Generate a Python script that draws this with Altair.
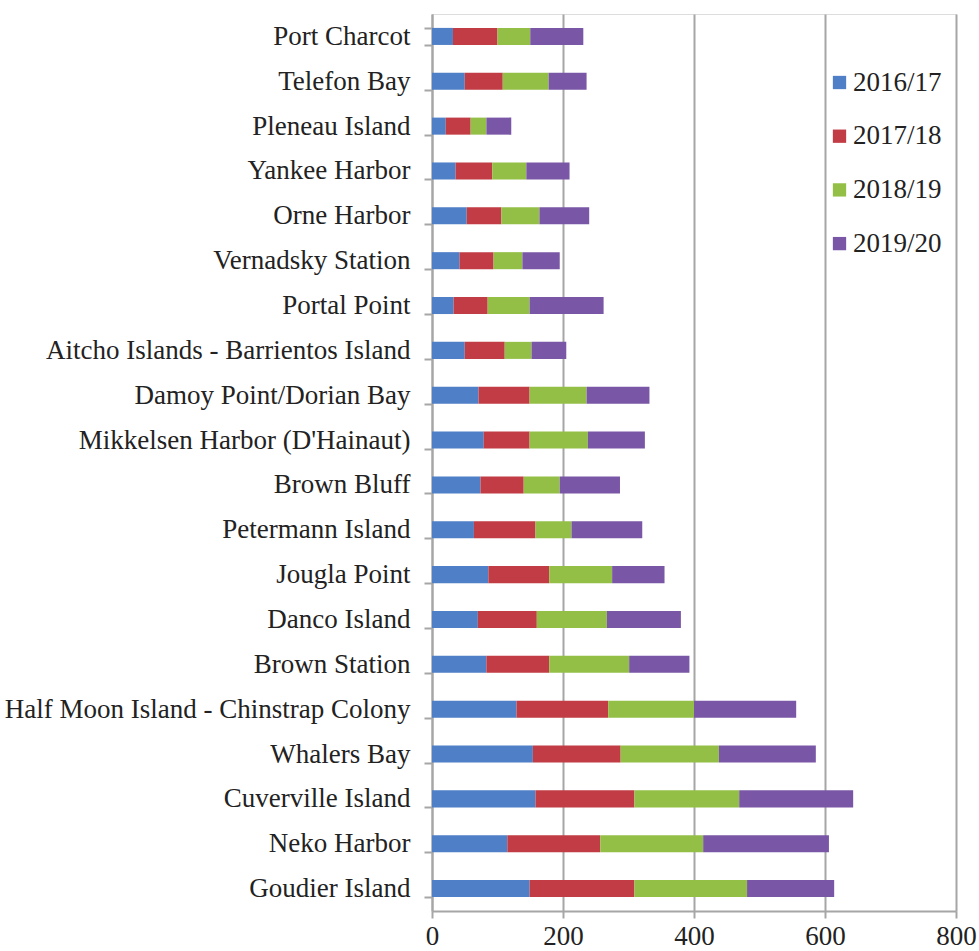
import altair as alt
import pandas as pd

# Landing sites, listed from top to bottom of the chart
sites = [
    "Port Charcot", "Telefon Bay", "Pleneau Island", "Yankee Harbor", "Orne Harbor",
    "Vernadsky Station", "Portal Point", "Aitcho Islands - Barrientos Island",
    "Damoy Point/Dorian Bay", "Mikkelsen Harbor (D'Hainaut)", "Brown Bluff",
    "Petermann Island", "Jougla Point", "Danco Island", "Brown Station",
    "Half Moon Island - Chinstrap Colony", "Whalers Bay", "Cuverville Island",
    "Neko Harbor", "Goudier Island",
]

seasons = ["2016/17", "2017/18", "2018/19", "2019/20"]

s2016_17 = [32, 50, 21, 36, 53, 42, 33, 50, 71, 79, 74, 64, 86, 70, 83, 129, 154, 158, 115, 149]
s2017_18 = [68, 58, 38, 56, 53, 52, 52, 61, 78, 70, 66, 94, 93, 90, 96, 140, 134, 151, 142, 160]
s2018_19 = [50, 70, 24, 52, 58, 44, 64, 41, 87, 89, 55, 55, 96, 107, 122, 131, 150, 160, 157, 172]
s2019_20 = [81, 58, 38, 66, 76, 57, 113, 53, 96, 87, 92, 108, 80, 113, 92, 156, 148, 174, 192, 133]

colors = ["#4F7FC6", "#C13C45", "#93BF47", "#7A57A6"]

series = [s2016_17, s2017_18, s2018_19, s2019_20]
rows = []
for k, (season, vals) in enumerate(zip(seasons, series)):
    for site, v in zip(sites, vals):
        rows.append({"site": site, "season": season, "value": v, "k": k})
df = pd.DataFrame(rows)

FONT = "Liberation Serif"
GRID = "#A6A6A6"

chart = (
    alt.Chart(df)
    .mark_bar()
    .encode(
        x=alt.X(
            "value:Q",
            stack="zero",
            scale=alt.Scale(domain=[0, 800], nice=False),
            axis=alt.Axis(
                values=[0, 200, 400, 600, 800],
                title=None,
                grid=True,
                gridColor=GRID,
                gridWidth=2,
                domainColor=GRID,
                domainWidth=2,
                tickColor=GRID,
                tickWidth=2,
                tickSize=7,
                labelFont=FONT,
                labelFontSize=27,
                labelColor="#222222",
                labelPadding=5,
                labelFlush=False,
                labelOverlap=False,
            ),
        ),
        y=alt.Y(
            "site:N",
            sort=sites,
            scale=alt.Scale(paddingInner=0.62, paddingOuter=0.31),
            axis=alt.Axis(
                title=None,
                tickBand="extent",
                domainColor=GRID,
                domainWidth=2,
                tickColor=GRID,
                tickWidth=2,
                tickSize=8,
                labelFont=FONT,
                labelFontSize=27,
                labelColor="#222222",
                labelPadding=14,
                labelLimit=500,
            ),
        ),
        color=alt.Color(
            "season:N",
            scale=alt.Scale(domain=seasons, range=colors),
            legend=alt.Legend(
                title=None,
                orient="none",
                legendX=394,
                legendY=55,
                symbolType="square",
                symbolSize=177,
                symbolStrokeWidth=0,
                symbolOpacity=1,
                labelFont=FONT,
                labelFontSize=27,
                labelColor="#222222",
                labelOffset=0,
                rowPadding=25.7,
                padding=0,
            ),
        ),
        order=alt.Order("k:Q", sort="ascending"),
    )
    .properties(
        width=524,
        height=897,
        autosize=alt.AutoSizeParams(type="none"),
        padding={"left": 432, "top": 14, "right": 23, "bottom": 40},
    )
    .configure_view(stroke=None)
    .configure(background="white")
)

chart.save("out.html", embed_options={"renderer": "svg", "actions": False})
